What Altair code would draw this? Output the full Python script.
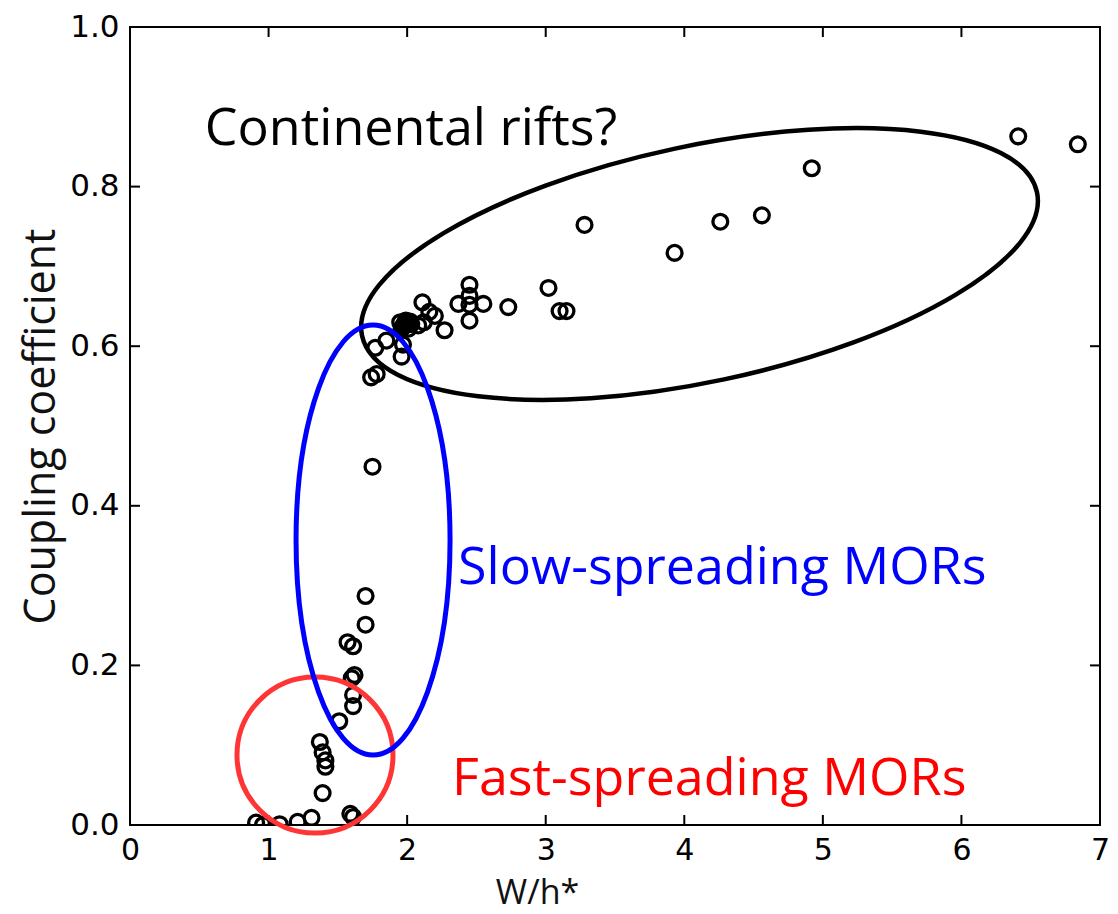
import altair as alt
import pandas as pd

# ---- data ----
wh = [6.41, 6.84, 4.92, 4.56, 4.26, 3.28, 3.93, 3.02, 3.10, 3.15, 2.73,
      2.45, 2.45, 2.37, 2.55, 2.45, 2.45, 2.27, 2.11, 2.16, 2.20,
      1.95, 1.97, 1.99, 2.01, 2.03, 2.08, 2.12, 1.98, 2.00, 1.96, 2.02,
      1.96, 1.97, 1.85, 1.77, 1.74, 1.78, 1.75,
      1.70, 1.70, 1.57, 1.61, 1.62, 1.60, 1.61, 1.61, 1.51,
      1.37, 1.39, 1.41, 1.41, 1.39, 1.59, 1.61,
      0.91, 0.96, 1.08, 1.21, 1.31]
coupling = [0.863, 0.853, 0.823, 0.764, 0.756, 0.752, 0.717, 0.673, 0.644, 0.644, 0.649,
            0.677, 0.663, 0.653, 0.653, 0.652, 0.632, 0.620, 0.655, 0.643, 0.638,
            0.630, 0.625, 0.632, 0.622, 0.628, 0.626, 0.630, 0.628, 0.627, 0.622, 0.631,
            0.587, 0.602, 0.607, 0.598, 0.561, 0.565, 0.449,
            0.287, 0.251, 0.229, 0.224, 0.188, 0.184, 0.163, 0.149, 0.130,
            0.104, 0.091, 0.081, 0.073, 0.040, 0.014, 0.010,
            0.003, 0.000, 0.001, 0.004, 0.009]

x_ticks = [0, 1, 2, 3, 4, 5, 6, 7]
y_ticks = [0.0, 0.2, 0.4, 0.6, 0.8, 1.0]

# annotation ellipse centres (data units)
ell_names = ["continental", "slow", "fast"]
ell_x = [4.11, 1.754, 1.335]
ell_y = [0.703, 0.357, 0.0877]

# annotation labels (left edge / baseline, data units)
lab_text = ["Continental rifts?", "Slow-spreading MORs", "Fast-spreading MORs"]
lab_x = [0.54, 2.367, 2.324]
lab_y = [0.852, 0.302, 0.0376]
lab_color = ["#000000", "#0000ff", "#ff0000"]

# ---- build chart ----
W, H = 970, 798
xs = alt.Scale(domain=[0, 7], nice=False, zero=False)
ys = alt.Scale(domain=[0, 1], nice=False, zero=False)

pts = pd.DataFrame({"wh": wh, "c": coupling})
ell = pd.DataFrame({"name": ell_names, "wh": ell_x, "c": ell_y})
labs = pd.DataFrame({"t": lab_text, "wh": lab_x, "c": lab_y, "col": lab_color})
xt = pd.DataFrame({"wh": x_ticks})
yt = pd.DataFrame({"c": y_ticks})

XTITLE = "W/h*"
YTITLE = "Coupling coefficient"


def ellipse_path(rx, ry):
    k = 0.5523
    return (f"M {rx} 0 C {rx} {k*ry} {k*rx} {ry} 0 {ry} "
            f"C {-k*rx} {ry} {-rx} {k*ry} {-rx} 0 "
            f"C {-rx} {-k*ry} {-k*rx} {-ry} 0 {-ry} "
            f"C {k*rx} {-ry} {rx} {-k*ry} {rx} 0 Z")


xaxis = alt.Axis(
    values=x_ticks, format="d", ticks=False, domain=False, grid=False,
    labelFont="DejaVu Sans", labelFontSize=30, labelColor="black",
    labelPadding=10, labelFlush=False,
    title=XTITLE, titleFont="Open Sans", titleFontSize=34,
    titleFontWeight="normal", titleColor="#111",
    titleX=407, titleY=78, titleBaseline="alphabetic", titleAlign="center")
yaxis = alt.Axis(
    values=y_ticks, format=".1f", ticks=False, domain=False, grid=False,
    labelFont="DejaVu Sans", labelFontSize=31, labelColor="black",
    labelPadding=11, labelFlush=False,
    title=YTITLE, titleFont="Open Sans", titleFontSize=43,
    titleFontWeight="normal", titleColor="#111",
    titleX=-76, titleY=H / 2, titleBaseline="alphabetic",
    titleAlign="center", titleAngle=270)

points = alt.Chart(pts).mark_point(
    shape="circle", filled=False, stroke="black", strokeWidth=3.3, size=220,
    clip=True, opacity=1
).encode(
    x=alt.X("wh:Q", scale=xs, axis=xaxis, title=XTITLE),
    y=alt.Y("c:Q", scale=ys, axis=yaxis, title=YTITLE),
)


def ellipse_layer(name, path, size, color, sw, angle=0):
    return alt.Chart(ell).transform_filter(
        alt.datum.name == name
    ).mark_point(
        shape=path, filled=False, stroke=color, strokeWidth=sw, opacity=1
    ).encode(
        x=alt.X("wh:Q", scale=xs, title=XTITLE),
        y=alt.Y("c:Q", scale=ys, title=YTITLE),
        size=alt.value(size),
        angle=alt.value(angle),
    )


red = ellipse_layer("fast", ellipse_path(1, 1), 156 ** 2, "#ff3535", 5)
black = ellipse_layer("continental", ellipse_path(1, 0.342), 690 ** 2, "black", 4.5, 348)
blue = ellipse_layer("slow", ellipse_path(77 / 215, 1), 430 ** 2, "#0000ff", 5)

texts = alt.Chart(labs).mark_text(
    font="Open Sans", fontSize=52, align="left", baseline="alphabetic"
).encode(
    x=alt.X("wh:Q", scale=xs, title=XTITLE),
    y=alt.Y("c:Q", scale=ys, title=YTITLE),
    text="t:N",
    color=alt.Color("col:N", scale=None),
)

tick_len = 10
xb = alt.Chart(xt).mark_rule(color="black", strokeWidth=2).encode(
    x=alt.X("wh:Q", scale=xs, title=XTITLE), y=alt.value(H), y2=alt.value(H - tick_len))
xtop = alt.Chart(xt).mark_rule(color="black", strokeWidth=2).encode(
    x=alt.X("wh:Q", scale=xs, title=XTITLE), y=alt.value(0), y2=alt.value(tick_len))
yl = alt.Chart(yt).mark_rule(color="black", strokeWidth=2).encode(
    y=alt.Y("c:Q", scale=ys, title=YTITLE), x=alt.value(0), x2=alt.value(tick_len))
yr = alt.Chart(yt).mark_rule(color="black", strokeWidth=2).encode(
    y=alt.Y("c:Q", scale=ys, title=YTITLE), x=alt.value(W), x2=alt.value(W - tick_len))

chart = alt.layer(points, xb, xtop, yl, yr, red, black, blue, texts).properties(
    width=W, height=H,
    autosize=alt.AutoSizeParams(type="none"),
    padding={"left": 130, "top": 27, "right": 18, "bottom": 89},
    background="white",
).configure_view(stroke="black", strokeWidth=2)

chart.save("out.html", embed_options={"renderer": "svg", "actions": False})
